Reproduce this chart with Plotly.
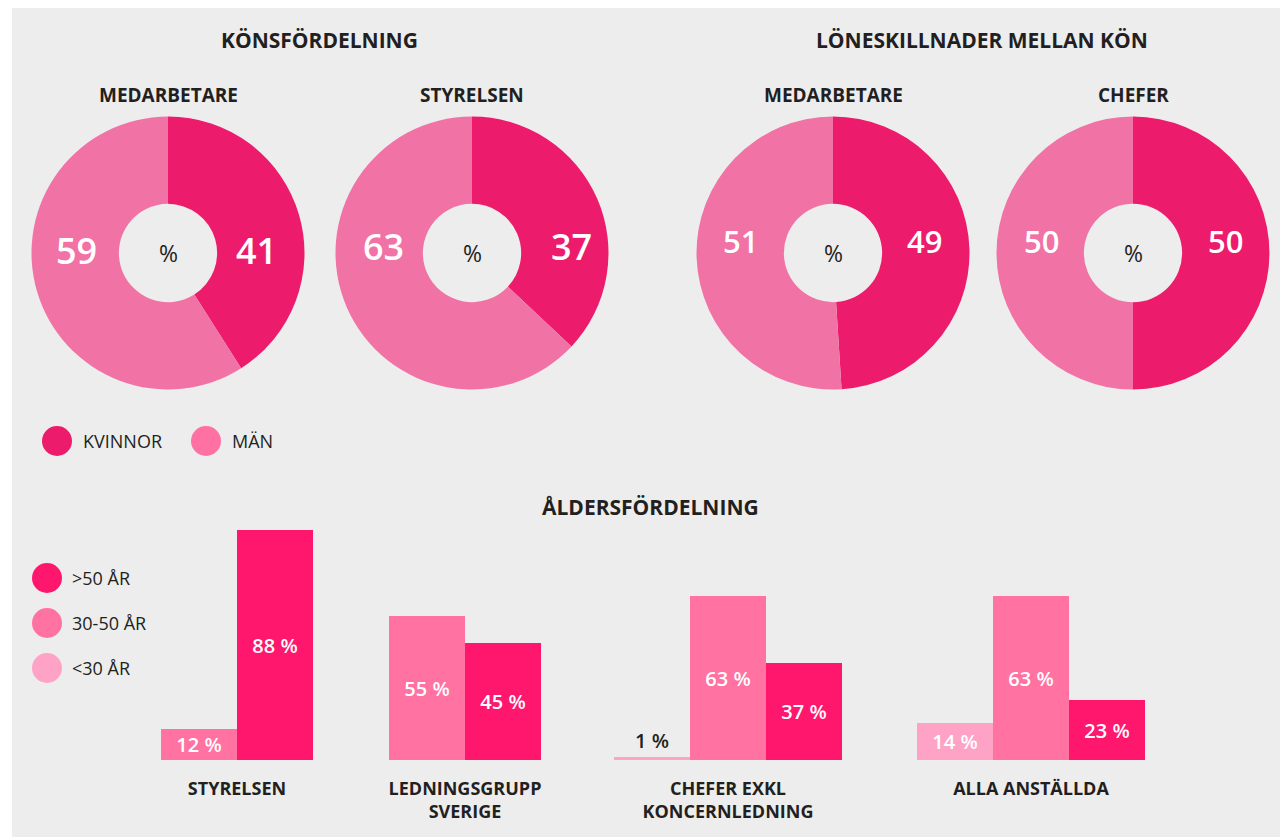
import plotly.graph_objects as go

W, H = 1280, 837

# ---------------- data ----------------
gender_labels = ["KVINNOR", "MÄN"]
pie_titles = ["MEDARBETARE", "STYRELSEN", "MEDARBETARE", "CHEFER"]
kvinnor = [41, 37, 49, 50]
man = [59, 63, 51, 50]
section_titles = ["KÖNSFÖRDELNING", "LÖNESKILLNADER MELLAN KÖN", "ÅLDERSFÖRDELNING"]

age_groups = ["STYRELSEN", "LEDNINGSGRUPP<br>SVERIGE", "CHEFER EXKL<br>KONCERNLEDNING", "ALLA ANSTÄLLDA"]
age_labels = [">50 ÅR", "30-50 ÅR", "<30 ÅR"]
under30 = [None, None, 1, 14]
age30_50 = [12, 55, 63, 63]
over50 = [88, 45, 37, 23]

# ---------------- style ----------------
FONT = "Open Sans"
DARK = "#231f20"
PANEL = "#ededed"
PIE_K = "#ed1b6b"
PIE_M = "#f172a5"
LEG_M = "#ff70a3"
BAR_COLORS = {"over": "#ff166d", "mid": "#ff72a1", "under": "#ffa3c6"}


def px(x):
    return x / W


def py(y):
    return 1 - y / H


fig = go.Figure()
annotations = []


def note(x, y, text, size, color=DARK, xanchor="center", weight="normal"):
    annotations.append(dict(x=px(x), y=py(y), xref="paper", yref="paper", text=text, showarrow=False,
                            font=dict(family=FONT, size=size, color=color, weight=weight),
                            xanchor=xanchor, yanchor="middle"))


# ---------------- pies ----------------
pie_centers = [(168, 253), (472, 253), (833, 253), (1133, 253)]
pie_r = 136.5
label_dy = [-3, -7, -12, -12]
label_dx = [(-92, 88), (-89, 99), (-93, 91), (-92, 92)]
label_size = [36, 36, 31, 31]
for i, (cx, cy) in enumerate(pie_centers):
    fig.add_trace(go.Pie(
        labels=gender_labels,
        values=[kvinnor[i], man[i]],
        sort=False, direction="clockwise", rotation=0,
        hole=0.36,
        marker=dict(colors=[PIE_K, PIE_M], line=dict(width=0)),
        textinfo="none", hoverinfo="label+percent",
        showlegend=False,
        domain=dict(x=[px(cx - pie_r), px(cx + pie_r)], y=[py(cy + pie_r), py(cy - pie_r)]),
    ))
    note(cx, 95, pie_titles[i], 19, weight="bold")
    note(cx, cy, "%", 23)
    note(cx + label_dx[i][1], cy + label_dy[i], str(kvinnor[i]), label_size[i], "white", weight=600)
    note(cx + label_dx[i][0], cy + label_dy[i], str(man[i]), label_size[i], "white", weight=600)

# section titles
for t, (x, y) in zip(section_titles, [(319, 40), (982, 40), (650, 507)]):
    note(x, y, t, 21, weight="bold")

# ---------------- bars ----------------
group_centers = [237, 465, 728, 1031]
BW = 76
series = [("under", age_labels[2], under30), ("mid", age_labels[1], age30_50), ("over", age_labels[0], over50)]
series_vals = {k: v for k, _, v in series}
bar_x = {k: [] for k, _, _ in series}
bar_y = {k: [] for k, _, _ in series}
for gi, gc in enumerate(group_centers):
    present = [k for k, _, vals in series if vals[gi] is not None]
    n = len(present)
    for j, k in enumerate(present):
        bar_x[k].append(gc + (j - (n - 1) / 2) * BW)
        bar_y[k].append(series_vals[k][gi])

for k, name, vals in series:
    ys = bar_y[k]
    fig.add_trace(go.Bar(
        x=bar_x[k], y=ys, width=BW, name=name,
        marker=dict(color=BAR_COLORS[k], line=dict(width=0)),
        text=[f"{v} %" for v in ys],
        textposition=["outside" if v < 5 else "inside" for v in ys],
        insidetextanchor="middle",
        textfont=dict(family=FONT, size=20, weight=600),
        insidetextfont=dict(family=FONT, size=20, color="white", weight=600),
        outsidetextfont=dict(family=FONT, size=20, color=DARK, weight=600),
        constraintext="none", cliponaxis=False,
        showlegend=False, xaxis="x", yaxis="y",
    ))

# ---------------- legends (drawn) ----------------
shapes = [dict(type="rect", xref="paper", yref="paper", x0=px(12), x1=1.02, y0=-0.02, y1=py(8),
               fillcolor=PANEL, line=dict(width=0), layer="below")]


def dot(cx, cy, r, color):
    shapes.append(dict(type="circle", xref="paper", yref="paper", x0=px(cx - r), x1=px(cx + r),
                       y0=py(cy + r), y1=py(cy - r), fillcolor=color, line=dict(width=0)))


dot(57, 441, 15, PIE_K)
dot(206, 441, 15, LEG_M)
note(81, 441, gender_labels[0], 18, xanchor="left")
note(230, 441, gender_labels[1], 18, xanchor="left")
for k, lab, yy in zip(["over", "mid", "under"], age_labels, [578, 623, 668]):
    dot(47, yy, 15, BAR_COLORS[k])
    note(70, yy, lab, 18, xanchor="left")

fig.update_layout(
    width=W, height=H,
    margin=dict(l=0, r=0, t=0, b=0),
    paper_bgcolor="white", plot_bgcolor="rgba(0,0,0,0)",
    barmode="overlay", bargap=0,
    xaxis=dict(domain=[0, 1], range=[0, W], showgrid=False, zeroline=False, showline=False,
               tickmode="array", tickvals=group_centers, ticktext=age_groups,
               tickfont=dict(family=FONT, size=18, color=DARK, weight="bold"), ticks="",
               ticklabelstandoff=16, fixedrange=True),
    yaxis=dict(domain=[py(760), py(499)], range=[0, 100], visible=False, fixedrange=True),
    shapes=shapes, annotations=annotations,
    font=dict(family=FONT, color=DARK),
)

fig.write_html("out.html", config={"displayModeBar": False},
               post_script="document.body.style.margin='0';")
